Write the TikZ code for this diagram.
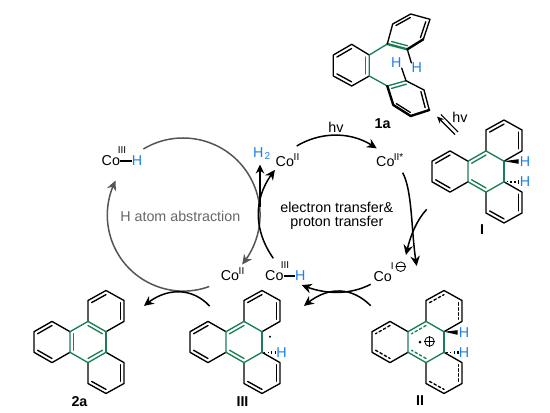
\documentclass[tikz,border=0pt]{standalone}
\usepackage{fontspec}
\setmainfont{Liberation Sans}
\usetikzlibrary{arrows.meta,calc,bending}
\definecolor{cgreen}{HTML}{1B7F55}
\definecolor{cblue}{HTML}{1E80E6}
\definecolor{cgray}{HTML}{555555}
\tikzset{
  bond/.style={line width=1.35pt,black,line cap=round,line join=round},
  gbond/.style={line width=1.35pt,cgreen,line cap=round},
  txt/.style={inner sep=0pt,font=\fontsize{14.3}{16}\selectfont},
  small/.style={inner sep=0pt,font=\fontsize{10}{10}\selectfont},
  bl/.style={txt,text=cblue},
  lab/.style={inner sep=0pt,font=\bfseries\fontsize{14.3}{15}\selectfont},
  cyc/.style={line width=1.5pt,black,-{Stealth[length=10pt,width=9.5pt,bend]}},
  gcyc/.style={line width=1.5pt,cgray,-{Stealth[length=10pt,width=9.5pt,bend]}},
  dashin/.style={dash pattern=on 2.6pt off 2.4pt}
}
% inner line of a double bond: end points, ring centre, colour/style
\newcommand{\inl}[4]{\draw[#4] ($(#1)!0.2!(#3)$) -- ($(#2)!0.2!(#3)$);}
% coordinates of the four-ring skeleton, centred on (#1,#2)
\newcommand{\skel}[2]{
  \begin{scope}[shift={(#1,#2)}]
  \coordinate (c) at (0,0);
  \coordinate (T) at (0,-20.6); \coordinate (TR) at (18,-10.3);
  \coordinate (BR) at (18,10.3); \coordinate (B) at (0,20.6);
  \coordinate (BL) at (-18,10.3); \coordinate (TL) at (-18,-10.3);
  \coordinate (cL) at (-36,0); \coordinate (L1) at (-36,-20.6);
  \coordinate (L2) at (-54,-10.3); \coordinate (L3) at (-54,10.3);
  \coordinate (L4) at (-36,20.6);
  \coordinate (cT) at (18,-31); \coordinate (T1) at (0,-41.5);
  \coordinate (T2) at (18,-51.5); \coordinate (T3) at (36,-41.5);
  \coordinate (T4) at (36,-20.6);
  \coordinate (cB) at (18,31); \coordinate (B1) at (0,41.5);
  \coordinate (B2) at (18,51.5); \coordinate (B3) at (36,41.5);
  \coordinate (B4) at (36,20.6);
  \end{scope}
  \draw[bond] (TL) -- (L1) -- (L2) -- (L3) -- (L4) -- (BL);
  \draw[bond] (T) -- (T1) -- (T2) -- (T3) -- (T4) -- (TR);
  \draw[bond] (B) -- (B1) -- (B2) -- (B3) -- (B4) -- (BR);
  \draw[gbond] (T) -- (TR) (BR) -- (B) -- (BL) -- (TL) -- (T);
}
\newcommand{\outerdb}[1]{
  \inl{L1}{L2}{cL}{#1}\inl{L3}{L4}{cL}{#1}
  \inl{T1}{T2}{cT}{#1}\inl{T3}{T4}{cT}{#1}
  \inl{B1}{B2}{cB}{#1}\inl{B3}{B4}{cB}{#1}
}
\newcommand{\hashb}[2]{\foreach \f in {0.2,0.45,0.7,0.95}{\fill ($(#1)!\f!(#2)+(-0.6,-1.3*\f-0.3)$) rectangle ($(#1)!\f!(#2)+(0.6,1.3*\f+0.3)$);}}
\begin{document}
\begin{tikzpicture}[x=1pt,y=-1pt]
\useasboundingbox (0,0) rectangle (550,413);

% --- 1a
\coordinate (a1) at (387.3,44); \coordinate (a2) at (407.3,49.3); \coordinate (a3) at (423.3,39.3);
\coordinate (a4) at (430,19.3); \coordinate (a5) at (410.7,14); \coordinate (a6) at (392.7,24);
\coordinate (ac) at (408.8,31.6);
\coordinate (m1) at (369.3,55); \coordinate (m2) at (351.7,44.3); \coordinate (m3) at (333.3,55);
\coordinate (m4) at (333.3,76); \coordinate (m5) at (351.7,86); \coordinate (m6) at (369.3,76);
\coordinate (mc) at (351.3,65.3);
\coordinate (b1) at (387.3,86); \coordinate (b2) at (406,80.7); \coordinate (b3) at (424,90);
\coordinate (b4) at (429.3,110); \coordinate (b5) at (410.7,116); \coordinate (b6) at (393.3,105);
\coordinate (bc) at (408.5,98);
\draw[bond] (m1) -- (m2) -- (m3) -- (m4) -- (m5) -- (m6);
\inl{m2}{m3}{mc}{bond}\inl{m4}{m5}{mc}{bond}
\draw[gbond] (m1) -- (a1) (m1) -- (m6) (m6) -- (b1);
\inl{m1}{m6}{mc}{gbond}
\draw[gbond,line width=2.4pt] (a1) -- (a2);
\draw[gbond] (b1) -- (b2);
\inl{a1}{a2}{ac}{gbond}\inl{b1}{b2}{bc}{gbond}
\draw[bond] (a1) -- (a6) -- (a5) -- (a4) -- (a3);
\draw[bond,line width=2.4pt] (a2) -- (a3);
\inl{a5}{a6}{ac}{bond}\inl{a3}{a4}{ac}{bond}
\draw[bond] (b2) -- (b3) -- (b4);
\draw[bond,line width=2.4pt] (b1) -- (b6) -- (b5) -- (b4);
\inl{b3}{b4}{bc}{bond}\inl{b5}{b6}{bc}{bond}
\node[bl] (hA) at (396.3,63) {H};
\node[bl] (hB) at (416.7,68) {H};
\draw[bond] (a2) -- (hB.north west);
\draw[bond] (b2) -- (hA.south east);
\node[lab] (l1a) at (382.7,124) {1a};

% --- equilibrium
\coordinate (e1) at (437,116.5); \coordinate (e2) at (455,134.5);
\coordinate (e3) at (441,114.5); \coordinate (e4) at (458,132);
\draw[line width=1.1pt,-{Stealth[length=7pt,width=6pt]}] (e2) -- (e1);
\draw[line width=1.1pt] (e3) -- (e4);
\node[txt] (hvb) at (460,117.3) {hv};

% --- I
\skel{486}{171.5}
\inl{T}{TL}{c}{gbond}\inl{B}{BL}{c}{gbond}
\outerdb{bond}
\draw[gbond,line width=2.4pt] (TR) -- (BR);
\node[bl] (h1) at (525,161.5) {H};
\node[bl] (h2) at (525,182) {H};
\fill (TR) -- ($(h1.west)+(-1,-2.3)$) -- ($(h1.west)+(-1,2.3)$) -- cycle;
\hashb{BR}{h2.west}
\node[lab] (lI) at (482,229.5) {I};

% --- II
\skel{426}{342}
\inl{T}{TL}{c}{gbond,dashin}\inl{B}{BL}{c}{gbond,dashin}
\outerdb{bond,dashin}
\draw[gbond,line width=2.4pt] (TR) -- (BR);
\node[bl] (h3) at (464,332.5) {H};
\node[bl] (h4) at (464,352.5) {H};
\fill (TR) -- ($(h3.west)+(-1,-2.3)$) -- ($(h3.west)+(-1,2.3)$) -- cycle;
\hashb{BR}{h4.west}
\fill (420,342) circle (1.5);
\node[draw,circle,minimum size=9.5pt,inner sep=0pt,line width=0.8pt] (plus) at (429.5,341.5) {};
\draw[line width=0.8pt] (plus.west) -- (plus.east) (plus.north) -- (plus.south);
\node[lab] (lII) at (420,401) {II};

% --- III
\skel{244}{342}
\inl{T}{TL}{c}{gbond}\inl{B}{BL}{c}{gbond}
\outerdb{bond}
\draw[gbond] (TR) -- (BR);
\node[bl] (h5) at (281.5,352.5) {H};
\hashb{BR}{h5.west}
\fill (270,336.7) circle (1.2);
\node[lab] (lIII) at (242.5,401.5) {III};

% --- 2a
\skel{88}{342}
\inl{T}{TR}{c}{gbond}\inl{B}{BR}{c}{gbond}\inl{TL}{BL}{c}{gbond}
\draw[gbond] (TR) -- (BR);
\outerdb{bond}
\node[lab] (l2a) at (79.5,402) {2a};

% --- cobalt labels
\node[txt,anchor=west] (cTL) at (101.5,161) {Co};
\node[small] at (122,150.5) {III};
\node[bl,anchor=west] (hTL) at (131.7,161) {H};
\draw[line width=1.2pt] (cTL.east) -- (hTL.west);

\node[bl] (h2t) at (258.3,152.7) {H};
\node[inner sep=0pt,text=cblue,font=\fontsize{10}{10}\selectfont] (h2s) at (267.5,156.5) {2};
\node[txt,anchor=west] (cR) at (275.5,161.5) {Co};
\node[small] at (296.5,157) {II};

\node[txt,anchor=west] (cS) at (376,161.7) {Co};
\node[small] at (398.5,157.5) {II*};

\node[txt,anchor=west] (cI) at (373.3,276.7) {Co};
\node[small] at (392.3,266.5) {I};
\node[draw,circle,minimum size=9.5pt,inner sep=0pt,line width=0.8pt] (minus) at (400.7,266.7) {};
\draw[line width=0.8pt] (minus.west) -- (minus.east);

\node[txt,anchor=west] (cH) at (265,276) {Co};
\node[small] at (285,265.5) {III};
\node[bl,anchor=west] (hH) at (295,276) {H};
\draw[line width=1.2pt] (cH.east) -- (hH.west);

\node[txt,anchor=west] (cLo) at (220.7,276) {Co};
\node[small] at (241.5,271.5) {II};

\node[txt] (hvt) at (336,127) {hv};
\node[txt] (et1) at (336.8,207.3) {electron transfer\&};
\node[txt] (et2) at (336.8,223.3) {proton transfer};
\node[txt,text=cgray!90] (hab) at (180.3,216) {H atom abstraction};

% --- gray cycle
\coordinate (g1) at (143.4,149.0);
\coordinate (g2) at (209.3,286.5);
\draw[gcyc] (g1) arc[start angle=121,delta angle=-161,radius=77pt];
\draw[gcyc] (g2) arc[start angle=-70,delta angle=-137,radius=76pt];

% --- black cycle
\coordinate (k1) at (296.7,146); \coordinate (k2) at (376.7,148.5);
\coordinate (k3) at (402.7,172.7); \coordinate (k4) at (416.7,266);
\coordinate (k5) at (426.7,209.3); \coordinate (k6) at (406,255);
\coordinate (k7) at (370.7,284.3); \coordinate (k8) at (301.7,285);
\coordinate (k9) at (370.7,305.7); \coordinate (k10) at (304,306);
\coordinate (k11) at (273.3,258.3); \coordinate (k12) at (275,170);
\coordinate (k13) at (260,206.7); \coordinate (k14) at (260,164.5);
\coordinate (k15) at (209.5,306); \coordinate (k16) at (144,306);
\draw[cyc] (k1) .. controls (320,132) and (352,130) .. (k2);
\draw[cyc] (k3) .. controls (413,192) and (411,235) .. (k4);
\draw[cyc] (k5) .. controls (415,222) and (409,240) .. (k6);
\draw[cyc] (k7) .. controls (350,295) and (325,295) .. (k8);
\draw[cyc] (k9) .. controls (350,285) and (325,287) .. (k10);
\draw[cyc] (k11) .. controls (252,228) and (254,195) .. (k12);
\draw[line width=1.1pt,-{Stealth[length=9pt,width=8.5pt]}] (k13) -- (k14);
\draw[cyc] (k15) .. controls (192,287) and (165,287) .. (k16);
\end{tikzpicture}
\end{document}
